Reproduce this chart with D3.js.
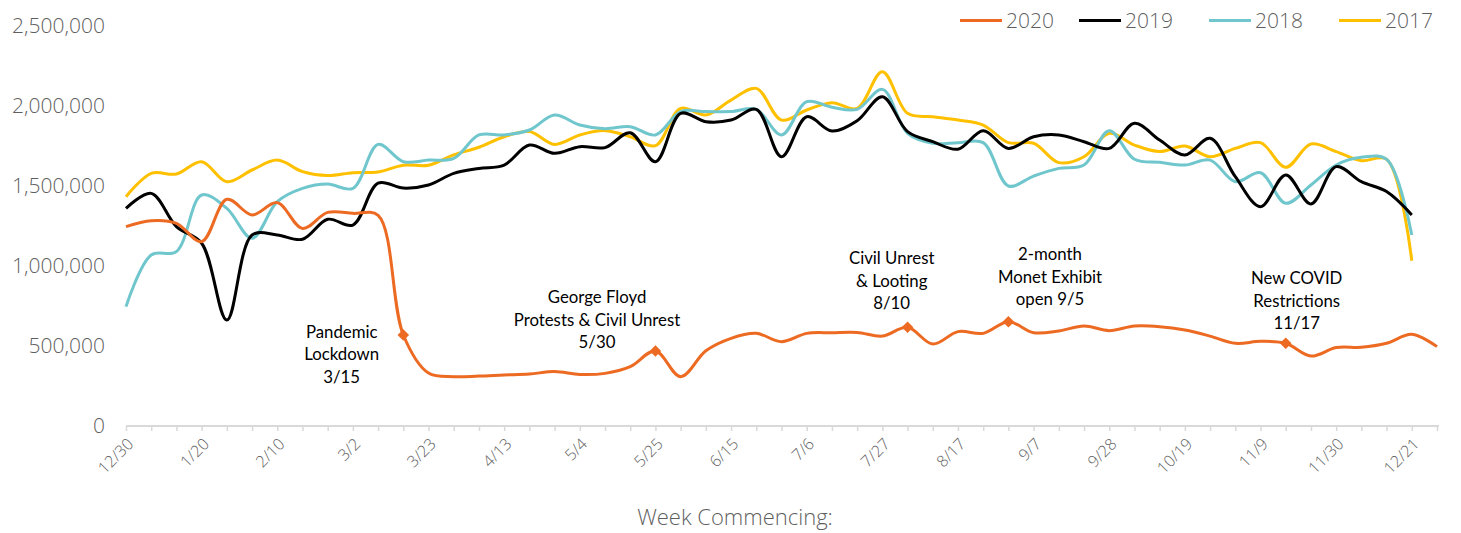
<!DOCTYPE html>
<html>
<head>
<meta charset="utf-8">
<script src="https://cdn.jsdelivr.net/npm/d3@7"></script>
<style>
  body { margin: 0; background: #fff; }
  .axis-label { font-family: "Open Sans", sans-serif; font-weight: 300; fill: #5f5f5f; }
  .note { font-family: Lato, sans-serif; font-size: 16.8px; fill: #000; }
</style>
</head>
<body>
<svg id="chart"></svg>
<script>
const width = 1461;
const height = 533;

const weeks = ["12/30","1/6","1/13","1/20","1/27","2/3","2/10","2/17","2/24","3/2","3/9","3/16","3/23","3/30",
  "4/6","4/13","4/20","4/27","5/4","5/11","5/18","5/25","6/1","6/8","6/15","6/22","6/29","7/6","7/13","7/20",
  "7/27","8/3","8/10","8/17","8/24","8/31","9/7","9/14","9/21","9/28","10/5","10/12","10/19","10/26","11/2",
  "11/9","11/16","11/23","11/30","12/7","12/14","12/21","12/28"];

const tickLabels = ["12/30","1/20","2/10","3/2","3/23","4/13","5/4","5/25","6/15","7/6","7/27","8/17","9/7",
  "9/28","10/19","11/9","11/30","12/21"];

const yTicks = [0, 500000, 1000000, 1500000, 2000000, 2500000];

const v2020 = [1246000,1283000,1267000,1152000,1417000,1319000,1396000,1235000,1335000,1329000,1316000,569000,
  331000,308000,312000,319000,325000,340000,322000,329000,371000,469000,308000,470000,548000,579000,527000,
  579000,583000,585000,562000,617000,512000,590000,579000,652000,583000,594000,625000,596000,625000,621000,
  600000,562000,517000,529000,517000,437000,490000,492000,517000,573000,496000];

const v2019 = [1360000,1454000,1246000,1142000,662000,1194000,1194000,1167000,1292000,1256000,1518000,1487000,
  1506000,1579000,1610000,1631000,1756000,1704000,1746000,1740000,1833000,1652000,1954000,1902000,1912000,
  1979000,1683000,1933000,1844000,1908000,2058000,1840000,1777000,1730000,1846000,1735000,1808000,1819000,
  1777000,1735000,1892000,1787000,1694000,1798000,1558000,1371000,1569000,1388000,1621000,1527000,1465000,
  1319000];

const v2018 = [746000,1069000,1090000,1444000,1360000,1173000,1402000,1485000,1512000,1485000,1760000,1652000,
  1662000,1673000,1819000,1819000,1850000,1944000,1881000,1858000,1871000,1819000,1965000,1965000,1965000,
  1979000,1819000,2027000,1992000,1979000,2104000,1829000,1767000,1771000,1771000,1500000,1562000,1610000,
  1631000,1846000,1667000,1648000,1631000,1662000,1527000,1583000,1392000,1506000,1631000,1679000,1667000,
  1194000];

const v2017 = [1433000,1579000,1575000,1652000,1527000,1600000,1662000,1590000,1565000,1583000,1588000,1630000,
  1630000,1695000,1742000,1808000,1840000,1760000,1819000,1846000,1808000,1752000,1985000,1944000,2037000,
  2110000,1912000,1975000,2021000,1985000,2214000,1954000,1933000,1912000,1881000,1771000,1767000,1646000,
  1683000,1829000,1756000,1715000,1750000,1683000,1735000,1771000,1617000,1762000,1715000,1658000,1667000,
  1033000];

const seriesNames = ["2020", "2019", "2018", "2017"];
const seriesColors = ["#ec6a22", "#000000", "#6fc6cc", "#ffc000"];
const seriesValues = [v2020, v2019, v2018, v2017];

const eventWeeks = ["3/16", "5/25", "8/3", "8/31", "11/16"];
const eventNotes = [
  ["Pandemic", "Lockdown", "3/15"],
  ["George Floyd", "Protests & Civil Unrest", "5/30"],
  ["Civil Unrest", "& Looting", "8/10"],
  ["2-month", "Monet Exhibit", "open 9/5"],
  ["New COVID", "Restrictions", "11/17"]
];

const svg = d3.select("#chart")
    .attr("width", width)
    .attr("height", height);

const x = d3.scalePoint()
    .domain(weeks)
    .range([126, 1437]);

const y = d3.scaleLinear()
    .domain([0, 2500000])
    .range([426, 26]);

// y axis labels, no line
svg.append("g")
    .selectAll("text")
    .data(yTicks)
    .join("text")
    .attr("class", "axis-label")
    .attr("x", 105)
    .attr("y", d => y(d))
    .attr("dy", "0.35em")
    .attr("text-anchor", "end")
    .style("font-size", "21px")
    .text(d => d3.format(",")(d));

// x axis
const xAxis = d3.axisBottom(x)
    .tickSize(5)
    .tickFormat(d => tickLabels.includes(d) ? d : "");

const xAxisGroup = svg.append("g")
    .attr("transform", `translate(0, ${y(0)})`)
    .call(xAxis);

xAxisGroup.select(".domain")
    .attr("d", `M${x(weeks[0])},0H${x(weeks[weeks.length - 1]) + 2}`)
    .attr("stroke", "#d9d9d9")
    .attr("stroke-width", 2);

xAxisGroup.selectAll(".tick line")
    .attr("stroke", "#d9d9d9")
    .attr("stroke-width", 1.5);

xAxisGroup.selectAll(".tick text")
    .attr("class", "axis-label")
    .style("font-size", "16px")
    .attr("text-anchor", "end")
    .attr("y", 0)
    .attr("dy", 0)
    .attr("transform", "translate(8, 19) rotate(-45)");

svg.append("text")
    .attr("class", "axis-label")
    .attr("x", 735)
    .attr("y", 525)
    .attr("text-anchor", "middle")
    .style("font-size", "22px")
    .text("Week Commencing:");

// series lines
const line = d3.line()
    .x((d, i) => x(weeks[i]))
    .y(d => y(d))
    .curve(d3.curveCatmullRom.alpha(0.5));

// draw older years first so 2020 stays on top
[3, 2, 1, 0].forEach(s => {
    svg.append("path")
        .datum(seriesValues[s])
        .attr("fill", "none")
        .attr("stroke", seriesColors[s])
        .attr("stroke-width", 3)
        .attr("stroke-linejoin", "round")
        .attr("d", line);
});

// event markers on 2020
eventWeeks.forEach(w => {
    const i = weeks.indexOf(w);
    svg.append("path")
        .attr("d", d3.symbol(d3.symbolDiamond2, 85)())
        .attr("transform", `translate(${x(w)}, ${y(v2020[i])})`)
        .attr("fill", seriesColors[0]);
});

// notes
const noteX = [341.7, 597, 891.7, 1050, 1296.7];
const noteY = [331.7, 297.3, 258.3, 254.3, 278.3];
eventNotes.forEach((lines, k) => {
    const t = svg.append("text")
        .attr("class", "note")
        .attr("text-anchor", "middle");
    lines.forEach((s, j) => {
        t.append("tspan")
            .attr("x", noteX[k])
            .attr("y", noteY[k] + j * 22.5)
            .attr("dy", "0.35em")
            .text(s);
    });
});

// legend
const legendX = [960, 1079, 1209, 1339];
seriesNames.forEach((name, s) => {
    svg.append("line")
        .attr("x1", legendX[s])
        .attr("x2", legendX[s] + 42)
        .attr("y1", 20.5)
        .attr("y2", 20.5)
        .attr("stroke", seriesColors[s])
        .attr("stroke-width", 3);
    svg.append("text")
        .attr("class", "axis-label")
        .attr("x", legendX[s] + 46)
        .attr("y", 20.5)
        .attr("dy", "0.35em")
        .style("font-size", "21px")
        .text(name);
});
</script>
</body>
</html>
